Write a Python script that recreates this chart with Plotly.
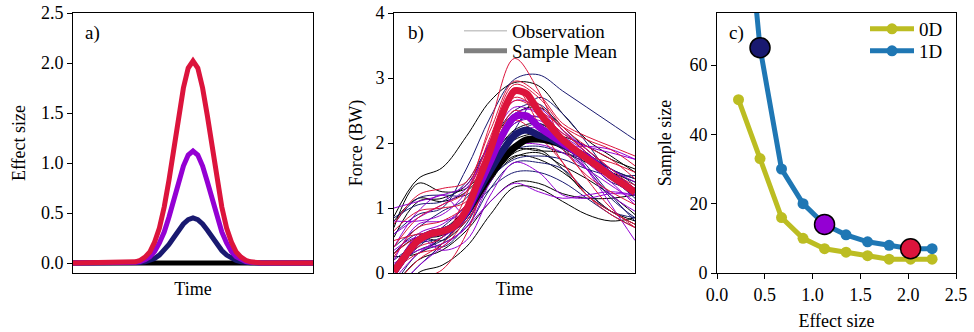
import plotly.graph_objects as go
from plotly.subplots import make_subplots

# ---------------- data ----------------
# Panel a: effect-size pulses vs time
time_a = [0, 22, 26, 28, 30, 32, 34, 36, 38, 40, 42, 44, 46, 48, 50,
          52, 54, 56, 58, 60, 62, 64, 66, 68, 70, 72, 74, 78, 100]
es_black = [0.0] * 29
es_navy = [0, 0, 0.003, 0.006, 0.013, 0.025, 0.046, 0.079, 0.125, 0.185, 0.255, 0.327, 0.39, 0.434, 0.45,
           0.434, 0.39, 0.327, 0.255, 0.185, 0.125, 0.079, 0.046, 0.025, 0.013, 0.006, 0.003, 0, 0]
es_violet = [0, 0.001, 0.007, 0.015, 0.032, 0.063, 0.115, 0.20, 0.31, 0.46, 0.63, 0.81, 0.97, 1.08, 1.12,
             1.08, 0.97, 0.81, 0.63, 0.46, 0.31, 0.20, 0.115, 0.063, 0.032, 0.015, 0.007, 0.001, 0]
es_crimson = [0, 0.002, 0.012, 0.027, 0.059, 0.11, 0.21, 0.35, 0.56, 0.83, 1.14, 1.47, 1.75, 1.95, 2.02,
              1.95, 1.75, 1.47, 1.14, 0.83, 0.56, 0.35, 0.21, 0.11, 0.059, 0.027, 0.012, 0.002, 0]

# Panel b: force trajectories
time_mean = [0, 5, 10, 15, 20, 25, 30, 35, 40, 45, 50, 55, 60, 65, 70, 75, 80, 85, 90, 95, 100]
mean_black = [0.02, 0.28, 0.50, 0.60, 0.64, 0.72, 0.92, 1.22, 1.50, 1.75, 1.93, 2.05, 2.06, 2.03, 1.97, 1.88, 1.78, 1.64, 1.50, 1.37, 1.24]
mean_navy = [0.02, 0.28, 0.50, 0.60, 0.64, 0.72, 0.92, 1.26, 1.58, 1.88, 2.12, 2.20, 2.12, 2.06, 1.97, 1.88, 1.78, 1.64, 1.50, 1.37, 1.24]
mean_violet = [0.02, 0.28, 0.50, 0.60, 0.64, 0.72, 0.94, 1.32, 1.72, 2.12, 2.40, 2.42, 2.25, 2.12, 2.00, 1.88, 1.78, 1.64, 1.50, 1.37, 1.24]
mean_crimson = [0.02, 0.28, 0.50, 0.60, 0.64, 0.72, 0.97, 1.42, 1.90, 2.45, 2.80, 2.76, 2.48, 2.25, 2.05, 1.90, 1.76, 1.63, 1.49, 1.37, 1.24]

time_obs = [0, 10, 20, 30, 40, 50, 60, 70, 80, 90, 100]
obs_black = [
    [0.87, 1.45, 1.62, 2.10, 2.65, 2.93, 2.88, 2.45, 2.05, 1.80, 1.55],
    [-0.5, 0.00, 0.12, 0.40, 0.90, 1.32, 1.30, 1.10, 0.90, 0.80, 0.85],
    [0.70, 1.38, 1.25, 1.30, 1.75, 2.20, 2.30, 2.05, 1.75, 1.45, 1.30],
    [0.30, 0.55, 0.50, 0.80, 1.40, 1.85, 1.90, 1.60, 1.20, 0.95, 0.80],
    [0.10, 0.45, 0.65, 1.00, 1.55, 1.90, 1.88, 1.85, 1.70, 1.55, 1.40],
    [-0.2, 0.20, 0.35, 0.65, 1.10, 1.40, 1.38, 1.22, 1.15, 1.15, 1.20],
    [0.55, 1.10, 1.15, 1.35, 2.00, 2.45, 2.55, 2.25, 1.90, 1.60, 1.45],
    [-0.1, 0.50, 0.58, 0.85, 1.45, 1.80, 1.75, 1.55, 1.25, 0.95, 0.75],
    [0.80, 1.15, 1.10, 1.25, 1.70, 2.05, 2.15, 2.10, 1.95, 1.75, 1.60],
    [0.25, 0.30, 0.55, 0.90, 1.45, 1.78, 1.85, 1.65, 1.45, 1.20, 0.90],
]
obs_navy = [
    [0.60, 0.90, 1.00, 1.60, 2.40, 2.98, 3.05, 2.80, 2.55, 2.30, 2.05],
    [0.20, 0.45, 0.55, 0.90, 1.30, 1.55, 1.55, 1.40, 1.15, 0.90, 0.70],
    [0.85, 1.05, 1.10, 1.40, 2.00, 2.50, 2.60, 2.20, 1.85, 1.60, 1.45],
    [-0.2, 0.30, 0.45, 0.70, 1.30, 1.70, 1.70, 1.60, 1.25, 0.95, 0.85],
    [0.40, 0.70, 0.95, 1.15, 1.80, 2.30, 2.40, 2.10, 1.75, 1.40, 1.30],
    [0.10, 0.35, 0.50, 0.85, 1.45, 1.75, 1.80, 1.75, 1.60, 1.50, 1.50],
    [0.30, 0.60, 0.40, 0.75, 1.50, 2.10, 2.30, 2.05, 1.65, 1.20, 0.80],
    [-0.3, 0.10, 0.45, 0.95, 1.60, 2.20, 2.70, 2.45, 2.00, 1.50, 1.15],
    [0.75, 1.15, 1.20, 1.20, 1.60, 1.90, 1.95, 1.85, 1.75, 1.60, 1.35],
    [0.05, 0.40, 0.70, 1.05, 1.75, 2.15, 2.10, 1.90, 1.60, 1.15, 0.85],
]
obs_violet = [
    [1.00, 1.10, 1.20, 1.35, 2.00, 2.55, 2.45, 2.15, 1.95, 1.85, 1.75],
    [0.40, 0.95, 1.20, 0.90, 1.60, 2.35, 2.40, 2.00, 1.60, 1.20, 0.95],
    [-0.3, 0.10, 0.40, 0.70, 1.10, 1.38, 1.25, 1.15, 1.20, 1.25, 1.20],
    [0.20, 0.75, 0.80, 0.95, 1.70, 2.45, 2.50, 2.10, 1.60, 1.05, 0.50],
    [0.60, 0.85, 1.05, 1.30, 1.90, 2.40, 2.30, 1.95, 1.95, 1.90, 1.75],
    [-0.1, 0.30, 0.55, 0.80, 1.45, 2.10, 2.25, 2.10, 1.85, 1.50, 1.25],
    [0.15, 0.35, 0.45, 0.70, 1.40, 1.95, 1.98, 1.85, 1.60, 1.35, 1.10],
    [0.80, 0.80, 0.90, 1.25, 2.05, 2.65, 2.55, 2.20, 1.90, 1.60, 1.40],
    [0.35, 0.55, 0.35, 0.50, 1.20, 1.70, 1.55, 1.20, 1.15, 1.22, 1.20],
    [0.05, 0.60, 0.75, 1.05, 1.70, 2.30, 2.35, 2.05, 1.70, 1.40, 1.05],
]
obs_crimson = [
    [0.10, 0.40, 0.55, 1.20, 2.30, 3.30, 2.80, 2.00, 1.45, 1.00, 0.70],
    [0.75, 1.20, 1.30, 1.40, 2.20, 2.95, 2.75, 2.30, 2.10, 1.95, 1.80],
    [0.65, 0.95, 1.00, 1.10, 1.90, 2.70, 2.50, 2.15, 1.90, 1.60, 1.30],
    [-0.4, -0.1, 0.05, 0.60, 1.70, 2.50, 2.25, 1.90, 1.50, 1.25, 1.05],
    [0.25, 0.70, 0.80, 1.05, 1.90, 2.80, 2.60, 2.20, 1.85, 1.55, 1.35],
    [0.30, 0.55, 0.60, 0.80, 1.60, 2.40, 2.30, 2.00, 1.80, 1.70, 1.55],
    [0.05, 0.30, 0.40, 0.85, 1.80, 2.85, 2.30, 1.70, 1.20, 0.90, 0.70],
    [0.40, 0.85, 1.05, 1.25, 2.10, 2.90, 2.70, 2.25, 1.95, 1.75, 1.45],
    [-0.2, 0.20, 0.45, 0.90, 1.75, 2.35, 2.10, 1.70, 1.20, 0.95, 0.75],
    [0.50, 0.60, 0.65, 0.90, 1.85, 2.65, 2.50, 2.25, 2.05, 1.90, 1.65],
]

# Panel c: sample size vs effect size
effect_sizes = [0.225, 0.45, 0.675, 0.9, 1.125, 1.35, 1.575, 1.8, 2.025, 2.25]
n_0d = [50, 33, 16, 10, 7, 6, 5, 4, 4, 4]
n_1d = [130, 65, 30, 20, 14, 11, 9, 8, 7, 7]
hl_effect = [0.45, 1.125, 2.025]
hl_n = [65, 14, 7]

# ---------------- styles ----------------
C_BLACK = "#000000"
C_NAVY = "#191970"
C_VIOLET = "#9400D3"
C_CRIMSON = "#DC143C"
C_0D = "#bcbd22"
C_1D = "#1f77b4"
FONT = "Liberation Serif"

fig = make_subplots(rows=1, cols=3)

# Panel a
for vals, col in [(es_black, C_BLACK), (es_navy, C_NAVY), (es_violet, C_VIOLET), (es_crimson, C_CRIMSON)]:
    fig.add_trace(go.Scatter(x=time_a, y=vals, mode="lines", line=dict(color=col, width=5),
                             showlegend=False, hoverinfo="skip"), row=1, col=1)

# Panel b observations
for group, col in [(obs_black, C_BLACK), (obs_navy, C_NAVY), (obs_violet, C_VIOLET), (obs_crimson, C_CRIMSON)]:
    for vals in group:
        fig.add_trace(go.Scatter(x=time_obs, y=vals, mode="lines",
                                 line=dict(color=col, width=1, shape="spline", smoothing=1.0),
                                 showlegend=False, hoverinfo="skip"), row=1, col=2)
# Panel b means
for vals, col in [(mean_black, C_BLACK), (mean_navy, C_NAVY), (mean_violet, C_VIOLET), (mean_crimson, C_CRIMSON)]:
    fig.add_trace(go.Scatter(x=time_mean, y=vals, mode="lines",
                             line=dict(color=col, width=7, shape="spline", smoothing=0.8),
                             showlegend=False, hoverinfo="skip"), row=1, col=2)
# Panel b legend entries
fig.add_trace(go.Scatter(x=[None], y=[None], mode="lines", name="Observation",
                         line=dict(color="#aaaaaa", width=1), legend="legend"), row=1, col=2)
fig.add_trace(go.Scatter(x=[None], y=[None], mode="lines", name="Sample Mean",
                         line=dict(color="#808080", width=5), legend="legend3"), row=1, col=2)

# Panel c
fig.add_trace(go.Scatter(x=effect_sizes, y=n_0d, mode="lines+markers", name="0D",
                         line=dict(color=C_0D, width=5), marker=dict(color=C_0D, size=11),
                         legend="legend2"), row=1, col=3)
fig.add_trace(go.Scatter(x=effect_sizes, y=n_1d, mode="lines+markers", name="1D",
                         line=dict(color=C_1D, width=5), marker=dict(color=C_1D, size=11),
                         legend="legend4"), row=1, col=3)
fig.add_trace(go.Scatter(x=hl_effect, y=hl_n, mode="markers", showlegend=False,
                         marker=dict(color=[C_NAVY, C_VIOLET, C_CRIMSON], size=20,
                                     line=dict(color="black", width=1.5))), row=1, col=3)

W, H = 974, 332
def dx(a, b):
    return [a / W, b / W]
ydom = [1 - 273 / H, 1 - 13 / H]

axis_common = dict(showline=True, linecolor="black", linewidth=1, mirror=True, showgrid=False,
                   zeroline=False, automargin=False,
                   tickfont=dict(family=FONT, size=18, color="black"),
                   tickcolor="black", ticklen=5, tickwidth=1)
title_font = dict(family=FONT, size=18, color="black")

def leg(xpx, ypx, iw):
    return dict(x=xpx / W, y=1 - ypx / H, xanchor="left", yanchor="middle",
                bgcolor="rgba(0,0,0,0)", borderwidth=0, itemwidth=iw,
                font=dict(family=FONT, size=19, color="black"))

fig.update_layout(
    width=W, height=H, margin=dict(l=0, r=0, t=0, b=0, autoexpand=False),
    paper_bgcolor="white", plot_bgcolor="white",
    font=dict(family=FONT, color="black"),
    xaxis=dict(domain=dx(73, 313), range=[0, 100], showticklabels=False, ticks="",
               title=dict(text="Time", font=title_font, standoff=9), **axis_common),
    yaxis=dict(domain=ydom, range=[-0.1, 2.5], tickvals=[0, 0.5, 1, 1.5, 2, 2.5],
               ticktext=["0.0", "0.5", "1.0", "1.5", "2.0", "2.5"], ticks="outside",
               title=dict(text="Effect size", font=title_font, standoff=10), **axis_common),
    xaxis2=dict(domain=dx(394, 635), range=[0, 100], showticklabels=False, ticks="",
                title=dict(text="Time", font=title_font, standoff=9), **axis_common),
    yaxis2=dict(domain=ydom, range=[0, 4], tickvals=[0, 1, 2, 3, 4], ticks="outside",
                title=dict(text="Force (BW)", font=title_font, standoff=8), **axis_common),
    xaxis3=dict(domain=dx(717, 956), range=[0, 2.5], tickvals=[0, 0.5, 1, 1.5, 2, 2.5],
                ticktext=["0.0", "0.5", "1.0", "1.5", "2.0", "2.5"], ticks="outside",
                title=dict(text="Effect size", font=title_font, standoff=10), **axis_common),
    yaxis3=dict(domain=ydom, range=[0, 75], tickvals=[0, 20, 40, 60], ticks="outside",
                title=dict(text="Sample size", font=title_font, standoff=13), **axis_common),
    legend=leg(459, 31, 43),
    legend3=leg(459, 51, 43),
    legend2=leg(865, 29, 44),
    legend4=leg(865, 51, 44),
)

for label, xref, yref, xo in [("a)", "x domain", "y domain", 10 / 240),
                               ("b)", "x2 domain", "y2 domain", 12 / 241),
                               ("c)", "x3 domain", "y3 domain", 10 / 239)]:
    fig.add_annotation(text=label, xref=xref, yref=yref, x=xo, y=1 - 20 / 260,
                       xanchor="left", yanchor="middle", showarrow=False,
                       font=dict(family=FONT, size=19, color="black"))

fig.write_html("out.html")
